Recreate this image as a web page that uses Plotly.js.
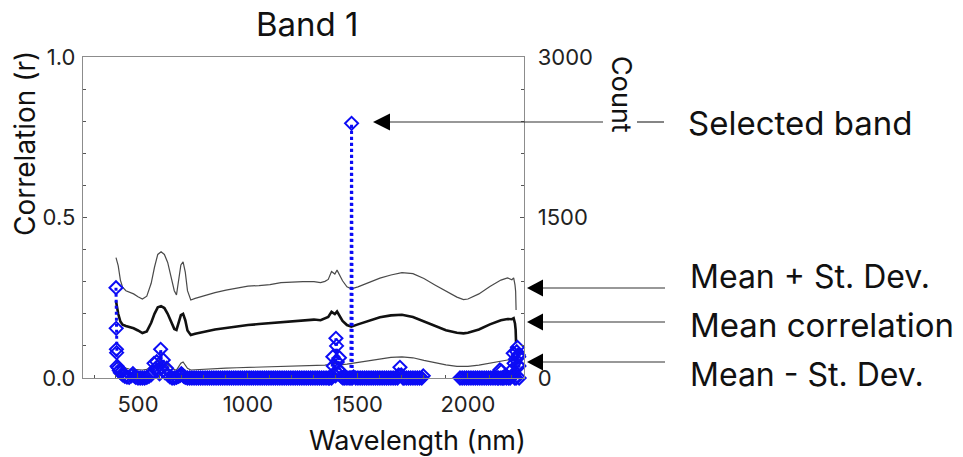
<!DOCTYPE html>
<html>
<head>
<meta charset="utf-8">
<script src="https://cdn.plot.ly/plotly-3.0.1.min.js"></script>
<style>html,body{margin:0;padding:0;background:#fff;}#chart{width:963px;height:457px;}</style>
</head>
<body>
<div id="chart"></div>
<script>
// ---- Data ----
const wavelength = [400,410,420,430,445,460,480,500,520,540,
  560,575,590,605,620,635,650,665,675,685,
  695,705,715,725,740,760,800,850,900,950,
  1000,1050,1100,1150,1200,1250,1300,1330,1350,1365,
  1380,1395,1405,1415,1430,1450,1470,1500,1550,1600,
  1650,1700,1750,1800,1850,1900,1950,1980,2000,2050,
  2100,2150,2180,2200,2208,2214,2217,2219];
const meanPlusSD = [0.375,0.35,0.305,0.283,0.272,0.268,0.262,0.253,0.246,0.255,
  0.295,0.345,0.385,0.393,0.385,0.36,0.318,0.272,0.259,0.3,
  0.352,0.362,0.33,0.272,0.243,0.248,0.257,0.266,0.274,0.281,
  0.286,0.288,0.291,0.297,0.299,0.3,0.3,0.297,0.301,0.307,
  0.332,0.324,0.336,0.323,0.303,0.284,0.278,0.284,0.298,0.311,
  0.321,0.328,0.325,0.31,0.29,0.27,0.252,0.244,0.246,0.262,
  0.285,0.305,0.312,0.306,0.312,0.29,0.27,0.212];
const meanCorr = [0.24,0.2,0.176,0.166,0.162,0.159,0.155,0.148,0.14,0.145,
  0.172,0.2,0.22,0.224,0.218,0.2,0.175,0.153,0.15,0.172,
  0.196,0.2,0.18,0.148,0.134,0.138,0.144,0.151,0.156,0.161,
  0.165,0.168,0.171,0.175,0.178,0.18,0.182,0.18,0.186,0.19,
  0.206,0.199,0.207,0.197,0.178,0.165,0.16,0.167,0.179,0.189,
  0.195,0.197,0.19,0.176,0.161,0.149,0.141,0.139,0.141,0.151,
  0.167,0.18,0.184,0.183,0.186,0.17,0.15,0.108];
const meanMinusSD = [0.052,0.042,0.036,0.033,0.03,0.028,0.027,0.026,0.025,0.027,
  0.035,0.046,0.054,0.056,0.051,0.042,0.033,0.026,0.025,0.035,
  0.046,0.05,0.04,0.03,0.025,0.026,0.028,0.03,0.031,0.032,
  0.033,0.034,0.035,0.036,0.037,0.038,0.039,0.038,0.04,0.042,
  0.046,0.045,0.048,0.045,0.042,0.043,0.045,0.048,0.054,0.059,
  0.064,0.066,0.063,0.055,0.047,0.041,0.036,0.035,0.036,0.04,
  0.047,0.053,0.056,0.056,0.055,0.05,0.045,0.04];

const countWl = [400,401,402,403,405,410,415,420,425,430,440,450,460,470,477,485,490,500,510,520,530,540,550,560,
  570,573,580,585,592,598,603,608,615,622,630,636,645,655,665,675,685,692,697,702,708,715,725,735,
  745,755,765,775,785,795,805,815,825,835,845,855,865,875,885,895,905,915,925,935,945,955,965,975,985,995,
  1005,1015,1025,1035,1045,1055,1065,1075,1085,1095,1105,1115,1125,1135,1145,1155,1165,1175,1185,1195,
  1205,1215,1225,1235,1245,1255,1265,1275,1285,1295,1305,1315,1325,1335,1345,1355,1365,
  1370,1375,1380,1386,1388,1392,1398,1400,1403,1406,1410,1416,1418,1425,1432,1440,1450,1460,1468,1471,1474,1480,1490,
  1500,1510,1520,1530,1540,1550,1560,1570,1580,1590,1600,1610,1620,1630,1640,1650,1660,1670,1680,1685,1691,1697,1705,
  1710,1720,1730,1740,1750,1760,1770,1780,1790,1797,
  1880,
  1964,1974,1984,1994,2004,2014,2024,2034,2044,2054,2064,2074,2084,2094,2104,2114,2124,2134,2140,2145,2150,2153,2158,2164,2168,2175,2185,2192,2199,
  2203,2206,2208,2210,2213,2216,2219,2222,2225,2227,2229,2231,2232,2233];
const countVal = [844,464,268,237,110,95,70,50,60,30,15,8,5,20,40,15,5,0,0,0,0,5,15,30,
  60,137,90,152,75,40,268,100,168,50,91,30,10,0,0,5,15,25,40,30,15,5,0,0,
  0,0,0,0,0,0,0,0,0,0,0,0,0,0,0,0,0,0,0,0,0,0,0,0,0,0,
  0,0,0,0,0,0,0,0,0,0,0,0,0,0,0,0,0,0,0,0,
  0,0,0,0,0,0,0,0,0,0,0,0,0,0,0,0,0,
  0,5,0,199,112,30,20,371,300,150,80,190,65,10,0,0,0,0,0,2380,0,10,0,
  0,0,0,0,0,0,0,0,0,0,0,0,0,0,0,0,0,0,0,30,100,30,0,
  0,0,0,0,0,0,0,0,0,20,
  null,
  0,0,0,0,0,0,0,0,0,0,0,0,0,0,0,0,0,0,0,75,0,65,0,0,19,0,0,0,19,
  81,231,28,137,0,175,0,246,287,121,215,199,112,0];

const xTickVals = [500,1000,1500,2000];
const xTickText = ['500','1000','1500','2000'];
const yTickVals = [0,0.5,1];
const yTickText = ['0.0','0.5','1.0'];
const y2TickVals = [0,1500,3000];
const y2TickText = ['0','1500','3000'];

// ---- Layout helpers (pixel -> paper) ----
const L = 83, T = 57, W = 441, H = 321;
const px = x => (x - L) / W;
const py = y => (T + H - y) / H;

const FONT = 'Inter, "Liberation Sans", Arial, sans-serif';
const AX = '#8c8c8c';
const BLUE = '#0c0cf5';

const traces = [
  {x: wavelength, y: meanPlusSD, type: 'scatter', mode: 'lines', line: {color: '#4a4a4a', width: 1.2}, yaxis: 'y', hoverinfo: 'skip'},
  {x: wavelength, y: meanMinusSD, type: 'scatter', mode: 'lines', line: {color: '#4a4a4a', width: 1.2}, yaxis: 'y', hoverinfo: 'skip'},
  {x: wavelength, y: meanCorr, type: 'scatter', mode: 'lines', line: {color: '#111', width: 2.6}, yaxis: 'y', hoverinfo: 'skip'},
  {x: countWl, y: countVal, type: 'scatter', mode: 'lines+markers', yaxis: 'y2', connectgaps: false, cliponaxis: false,
   line: {color: BLUE, width: 3, dash: 'dot'},
   marker: {symbol: 'diamond-open', size: 10, color: BLUE, line: {width: 2, color: BLUE}}}
];

function arrow(tipX, baseX, endX, y) {
  return [
    {type: 'path', xref: 'paper', yref: 'paper', fillcolor: '#000', line: {width: 0},
     path: `M ${px(tipX)} ${py(y)} L ${px(baseX)} ${py(y - 8.5)} L ${px(baseX)} ${py(y + 8.5)} Z`},
    {type: 'line', xref: 'paper', yref: 'paper', x0: px(baseX), x1: px(endX), y0: py(y), y1: py(y), line: {color: '#333', width: 1.2}}
  ];
}

const shapes = [].concat(
  arrow(373, 390, 603, 122),
  [{type: 'line', xref: 'paper', yref: 'paper', x0: px(637), x1: px(664), y0: py(122), y1: py(122), line: {color: '#333', width: 1.2}}],
  arrow(527, 543, 665, 288),
  arrow(527, 543, 665, 322),
  arrow(527, 543, 665, 362)
);

function ann(text, x, y, size, opts) {
  return Object.assign({text: text, xref: 'paper', yref: 'paper', x: px(x), y: py(y), showarrow: false,
    xanchor: 'center', yanchor: 'middle', font: {family: FONT, size: size, color: '#111'}}, opts || {});
}

const annotations = [
  ann('Band 1', 307, 24, 33),
  ann('Correlation (r)', 25, 144, 28, {textangle: -90}),
  ann('Wavelength (nm)', 417, 440, 27),
  ann('Count', 622, 94, 27, {textangle: 90}),
  ann('Selected band', 686, 123, 33, {xanchor: 'left'}),
  ann('Mean + St. Dev.', 688, 276, 32, {xanchor: 'left'}),
  ann('Mean correlation', 688, 325, 33, {xanchor: 'left'}),
  ann('Mean - St. Dev.', 688, 374, 32, {xanchor: 'left'})
];

const layout = {
  width: 963, height: 457,
  margin: {l: L, r: 963 - L - W, t: T, b: 457 - T - H, pad: 0},
  paper_bgcolor: '#fff', plot_bgcolor: '#fff',
  showlegend: false,
  font: {family: FONT, size: 22, color: '#222'},
  xaxis: {range: [250, 2255], tickvals: xTickVals, ticktext: xTickText, ticks: 'inside', ticklen: 5, tickcolor: '#555',
    showline: true, linecolor: AX, linewidth: 1.3, mirror: true, showgrid: false, zeroline: false,
    minor: {dtick: 100, tick0: 0, ticks: 'inside', ticklen: 3, tickcolor: '#555'},
    tickfont: {family: FONT, size: 22, color: '#222'}, ticklabelstandoff: 6},
  yaxis: {range: [0, 1], tickvals: yTickVals, ticktext: yTickText, ticks: 'inside', ticklen: 4, tickcolor: '#555',
    showline: true, linecolor: AX, linewidth: 1.3, showgrid: false, zeroline: false,
    minor: {dtick: 0.1, tick0: 0, ticks: 'inside', ticklen: 3, tickcolor: '#555'},
    tickfont: {family: FONT, size: 22, color: '#222'}, ticklabelstandoff: 2},
  yaxis2: {overlaying: 'y', side: 'right', range: [0, 3000], tickvals: y2TickVals, ticktext: y2TickText,
    ticks: 'inside', ticklen: 4, tickcolor: '#555', showline: true, linecolor: AX, linewidth: 1.3,
    showgrid: false, zeroline: false,
    minor: {dtick: 300, tick0: 0, ticks: 'inside', ticklen: 3, tickcolor: '#555'},
    tickfont: {family: FONT, size: 22, color: '#222'}, ticklabelstandoff: 8},
  shapes: shapes,
  annotations: annotations
};

Plotly.newPlot('chart', traces, layout, {staticPlot: true, displayModeBar: false});
</script>
</body>
</html>
